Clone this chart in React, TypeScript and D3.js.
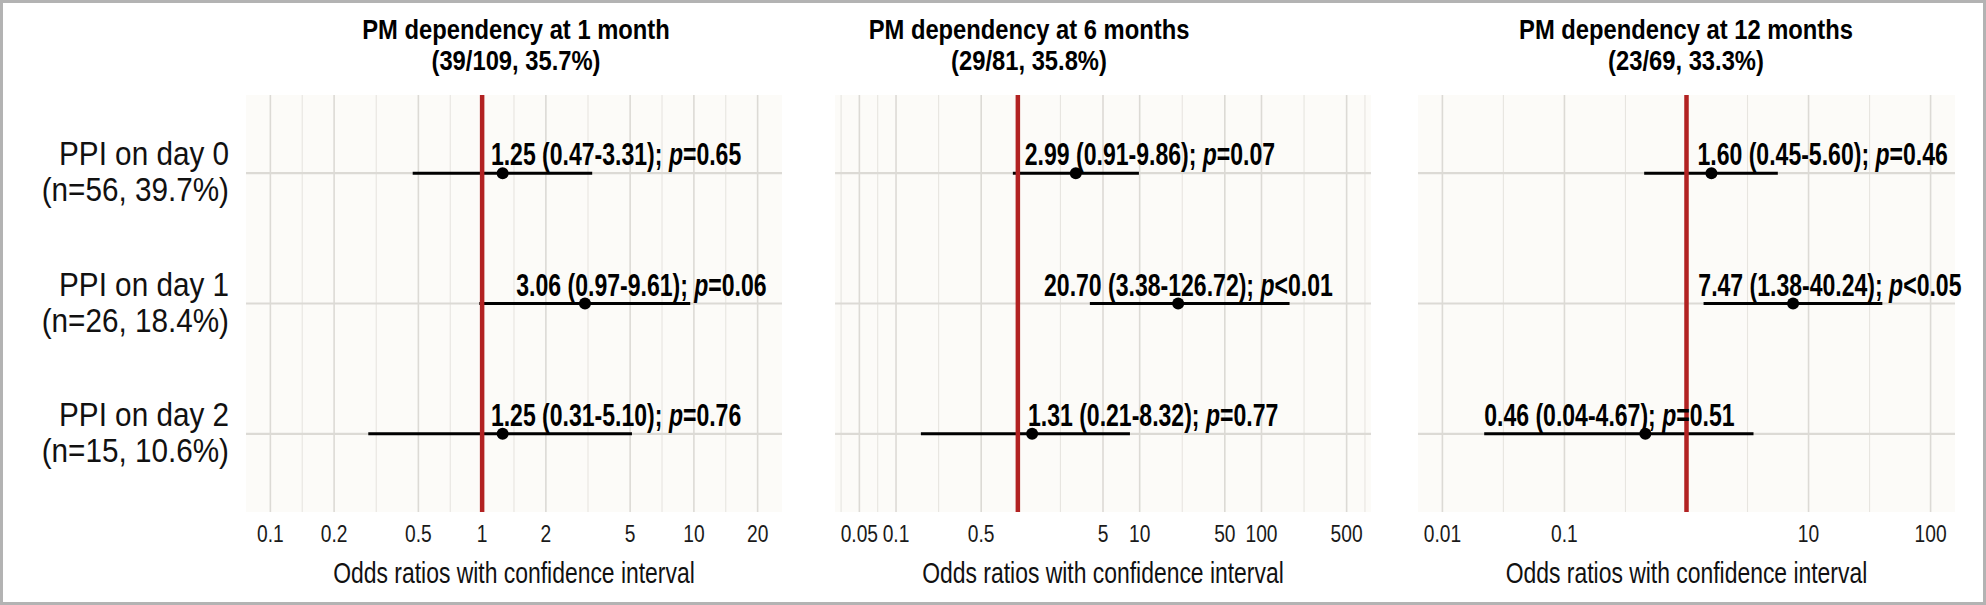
import React from 'react';
import * as d3 from 'd3';

// rows (y categories)
const rowLabels = ['PPI on day 0', 'PPI on day 1', 'PPI on day 2'];
const rowCounts = ['(n=56, 39.7%)', '(n=26, 18.4%)', '(n=15, 10.6%)'];

// panels
const panelTitles = ['PM dependency at 1 month', 'PM dependency at 6 months', 'PM dependency at 12 months'];
const panelSubtitles = ['(39/109, 35.7%)', '(29/81, 35.8%)', '(23/69, 33.3%)'];

// odds ratios and the drawn confidence intervals, one array per panel
const oddsRatios = [[1.25, 3.06, 1.25], [2.99, 20.7, 1.31], [1.6, 7.47, 0.46]];
const ciLower = [[0.47, 0.97, 0.29], [0.91, 3.9, 0.16], [0.45, 1.38, 0.022]];
const ciUpper = [[3.31, 9.61, 5.1], [9.86, 170, 8.32], [5.6, 40.24, 3.54]];

// annotation texts
const ciText = [
  ['1.25 (0.47-3.31); ', '3.06 (0.97-9.61); ', '1.25 (0.31-5.10); '],
  ['2.99 (0.91-9.86); ', '20.70 (3.38-126.72); ', '1.31 (0.21-8.32); '],
  ['1.60 (0.45-5.60); ', '7.47 (1.38-40.24); ', '0.46 (0.04-4.67); '],
];
const pText = [
  ['=0.65', '=0.06', '=0.76'],
  ['=0.07', '<0.01', '=0.77'],
  ['=0.46', '<0.05', '=0.51'],
];
// where each annotation starts, in odds-ratio units
const labelAnchor = [[1.1, 1.45, 1.1], [1.14, 1.64, 1.21], [1.23, 1.25, 0.022]];

// axes
const axisLimits = [[0.1, 20], [0.05, 500], [0.01, 100]];
const majorBreaks = [
  [0.1, 0.2, 0.5, 1, 2, 5, 10, 20],
  [0.05, 0.1, 0.5, 1, 5, 10, 50, 100, 500],
  [0.01, 0.1, 1, 10, 100],
];
const tickLabels = [
  ['0.1', '0.2', '0.5', '1', '2', '5', '10', '20'],
  ['0.05', '0.1', '0.5', '', '5', '10', '50', '100', '500'],
  ['0.01', '0.1', '', '10', '100'],
];
const minorBreaks = [
  [0.1414, 0.3162, 0.7071, 1.414, 3.162, 7.071, 14.14],
  [0.0354, 0.0707, 0.2236, 2.236, 22.36, 223.6, 707],
  [0.0316, 0.3162, 3.162, 31.62],
];
const xTitle = 'Odds ratios with confidence interval';

const W = 1986;
const H = 605;
const FONT = '"Liberation Sans", Arial, Helvetica, sans-serif';
const panelX = [[246, 782], [835, 1371], [1418, 1955]];
const titleCx = [516, 1029, 1686];
const plotTop = 95;
const plotBottom = 512;

const SText: React.FC<{
  x: number; y: number; sx: number; size: number; anchor?: string; weight?: string | number; fill?: string;
  children: React.ReactNode;
}> = ({ x, y, sx, size, anchor = 'middle', weight = 'normal', fill = '#111', children }) => (
  <text
    transform={`translate(${x},${y}) scale(${sx},1)`}
    textAnchor={anchor as any}
    fontSize={size}
    fontWeight={weight}
    fontFamily={FONT}
    fill={fill}
  >
    {children}
  </text>
);

const Panel: React.FC<{ i: number }> = ({ i }) => {
  const [lo, hi] = axisLimits[i];
  const ext = Math.pow(hi / lo, 0.05);
  const x = d3.scaleLog().domain([lo / ext, hi * ext]).range(panelX[i]);
  const y = d3.scalePoint<string>().domain(rowLabels).range([plotTop, plotBottom]).padding(0.6);
  const [x0, x1] = panelX[i];

  return (
    <g>
      <rect x={x0} y={plotTop} width={x1 - x0} height={plotBottom - plotTop} fill="#fcfbf8" />
      {minorBreaks[i].map((b, k) => (
        <line key={'mi' + k} x1={x(b)} x2={x(b)} y1={plotTop} y2={plotBottom} stroke="#e7e5e0" strokeWidth={1.1} />
      ))}
      {majorBreaks[i].map((b, k) => (
        <line key={'ma' + k} x1={x(b)} x2={x(b)} y1={plotTop} y2={plotBottom} stroke="#dcdad5" strokeWidth={1.6} />
      ))}
      {rowLabels.map((r) => (
        <line key={'h' + r} x1={x0} x2={x1} y1={y(r)} y2={y(r)} stroke="#dcdad5" strokeWidth={2.2} />
      ))}

      {rowLabels.map((r, k) => (
        <line key={'ci' + r} x1={x(ciLower[i][k])} x2={x(ciUpper[i][k])} y1={y(r)} y2={y(r)} stroke="#000" strokeWidth={3} />
      ))}

      <line x1={x(1)} x2={x(1)} y1={plotTop} y2={plotBottom} stroke="#b22222" strokeWidth={4.5} />

      {rowLabels.map((r, k) => (
        <circle key={'pt' + r} cx={x(oddsRatios[i][k])} cy={y(r)} r={6} fill="#000" />
      ))}

      {rowLabels.map((r, k) => (
        <SText key={'lb' + r} x={x(labelAnchor[i][k])} y={(y(r) as number) - 8} sx={0.72} size={32} anchor="start" weight="bold" fill="#000">
          {ciText[i][k]}
          <tspan fontStyle="italic">p</tspan>
          {pText[i][k]}
        </SText>
      ))}

      {majorBreaks[i].map((b, k) => (
        <SText key={'t' + k} x={x(b)} y={542} sx={0.8} size={24} fill="#1a1a1a">
          {tickLabels[i][k]}
        </SText>
      ))}

      <SText x={(x0 + x1) / 2} y={583} sx={0.79} size={29}>{xTitle}</SText>
      <SText x={titleCx[i]} y={39} sx={0.88} size={27} weight="bold" fill="#000">{panelTitles[i]}</SText>
      <SText x={titleCx[i]} y={70} sx={0.88} size={27} weight="bold" fill="#000">{panelSubtitles[i]}</SText>
    </g>
  );
};

export default function App() {
  const y = d3.scalePoint<string>().domain(rowLabels).range([plotTop, plotBottom]).padding(0.6);
  return (
    <svg width={W} height={H} style={{ position: 'absolute', left: 0, top: 0, background: '#fff' }}>
      <rect x={1.5} y={1.5} width={W - 3} height={H - 3} fill="#fff" stroke="#b3b3b3" strokeWidth={3} />
      {rowLabels.map((r, k) => (
        <g key={r}>
          <SText x={229} y={(y(r) as number) - 8} sx={0.9} size={33} anchor="end">{r}</SText>
          <SText x={229} y={(y(r) as number) + 28} sx={0.9} size={33} anchor="end">{rowCounts[k]}</SText>
        </g>
      ))}
      {panelTitles.map((_, i) => (
        <Panel key={i} i={i} />
      ))}
    </svg>
  );
}
